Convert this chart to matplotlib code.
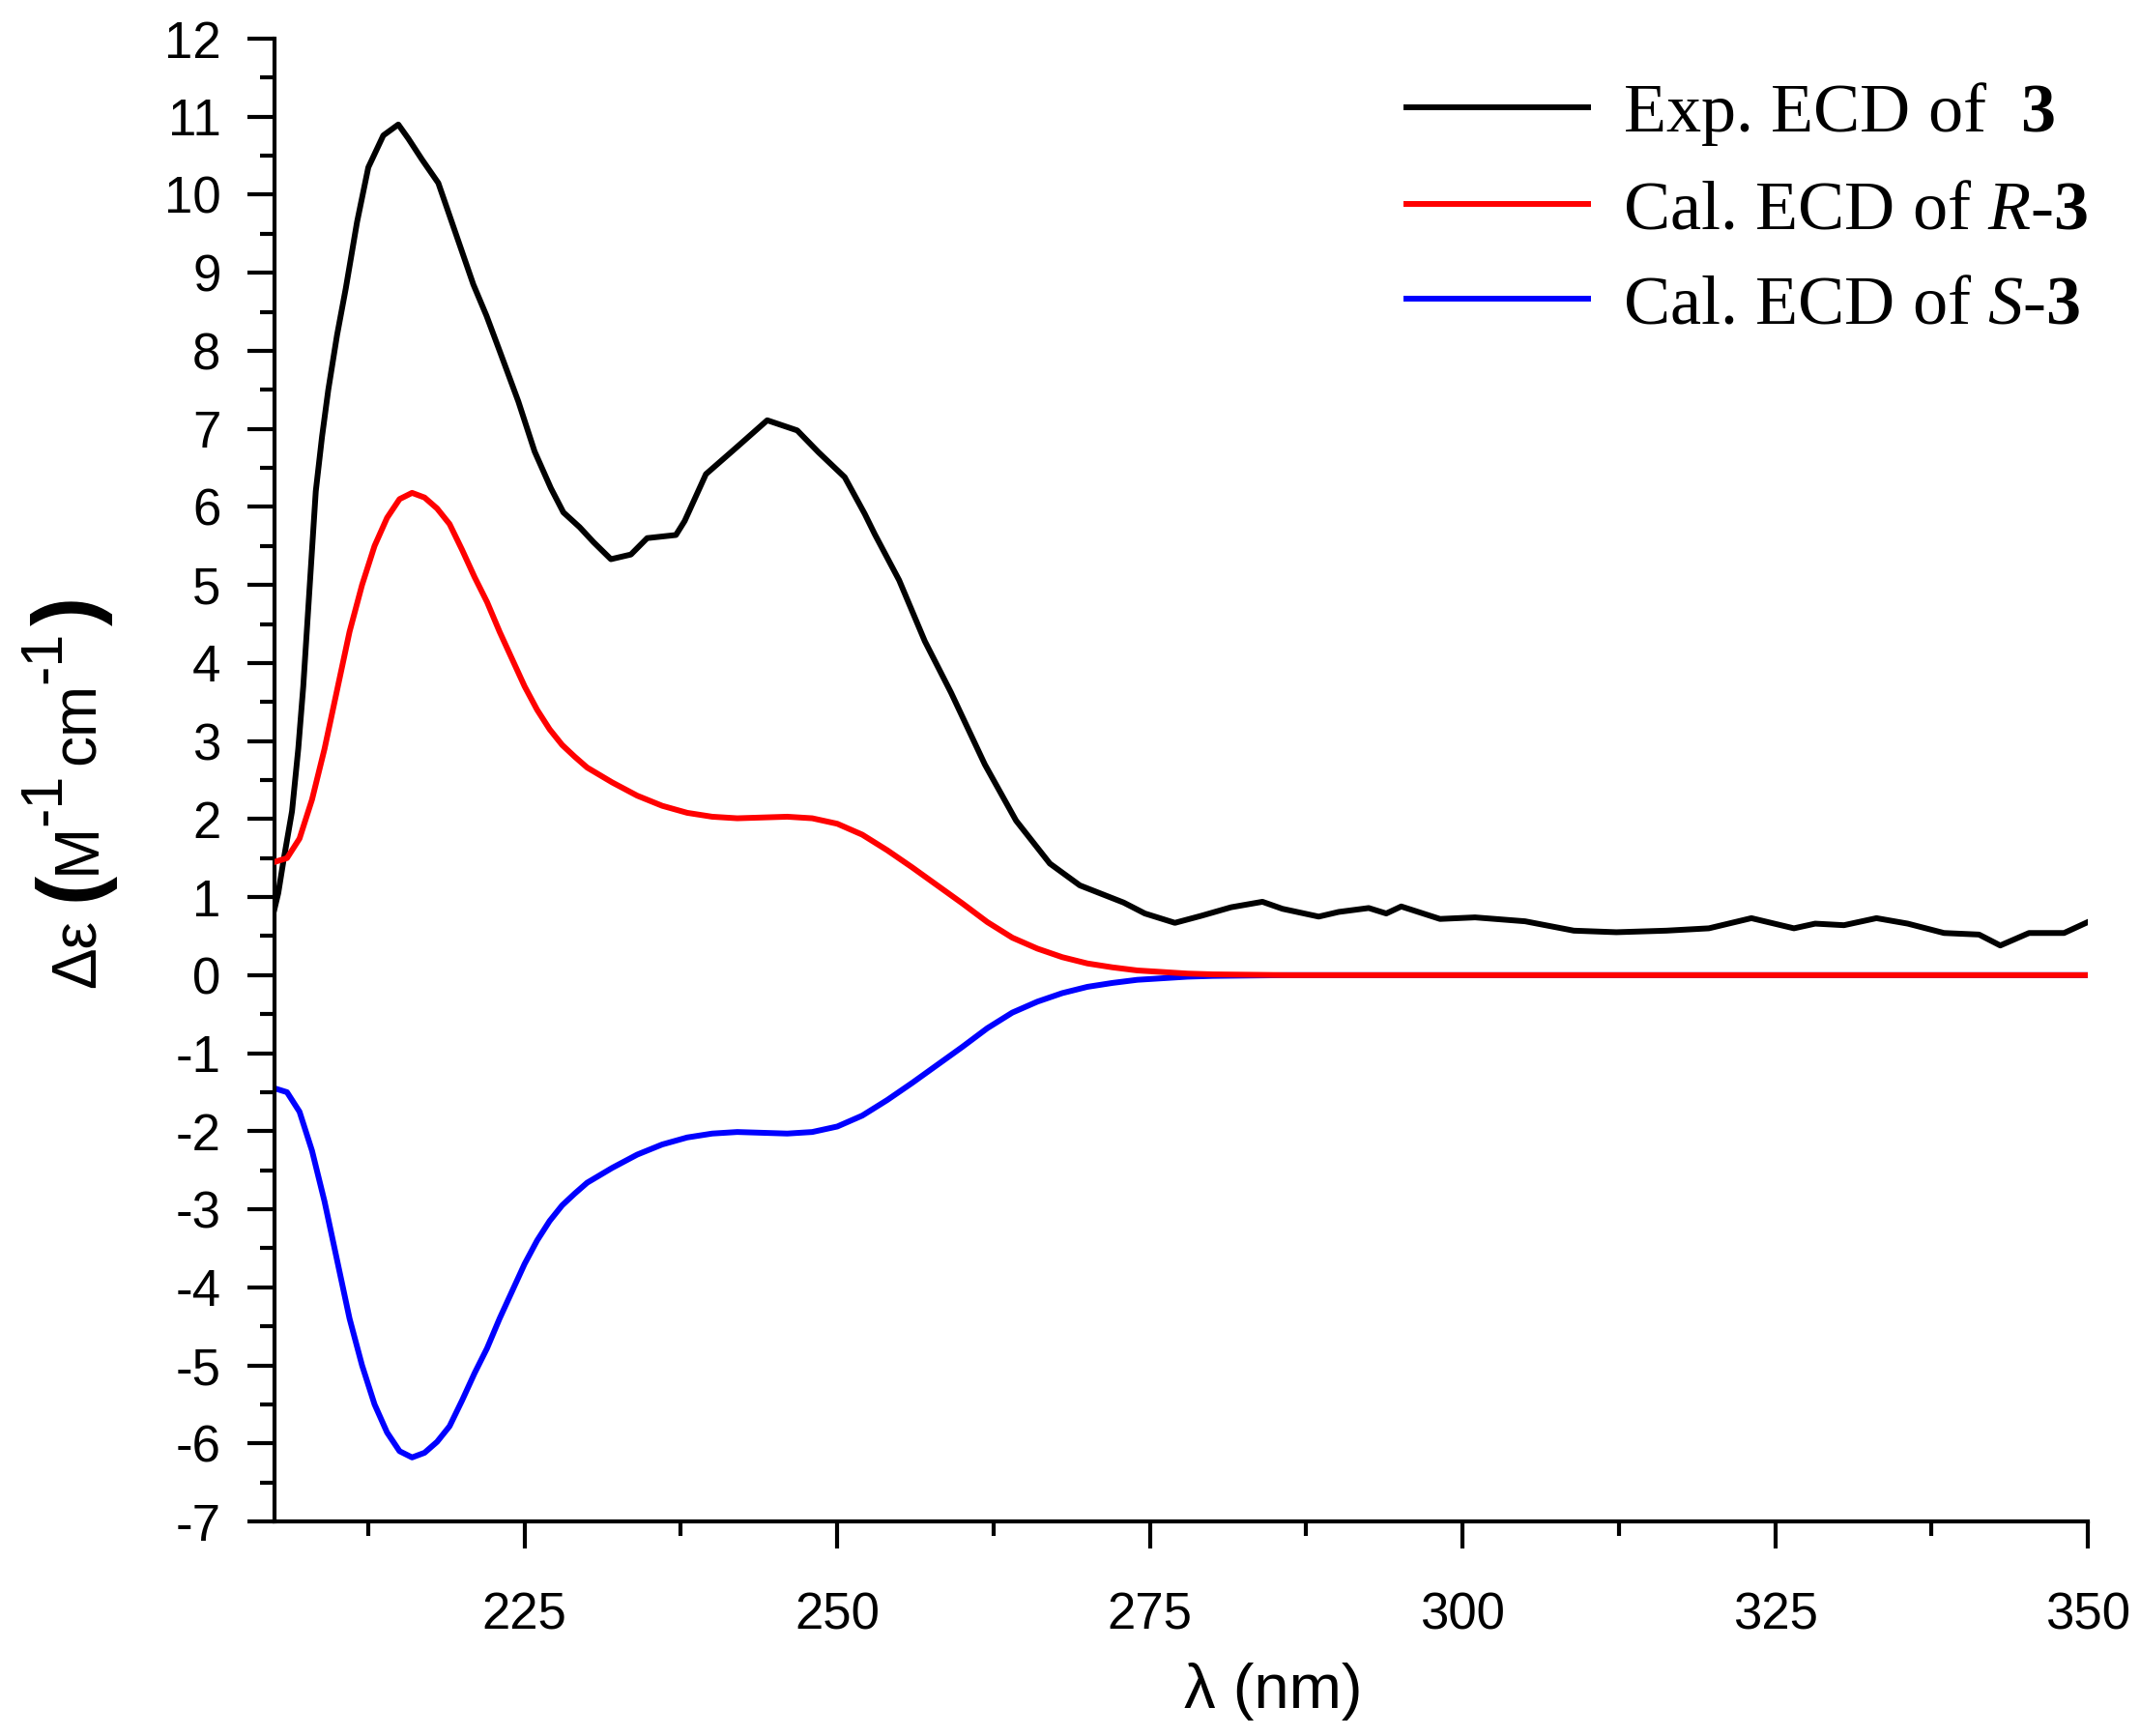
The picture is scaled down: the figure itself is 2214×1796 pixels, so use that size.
from matplotlib import pyplot as plt
from matplotlib.ticker import MultipleLocator

plt.rcParams['mathtext.fontset'] = 'custom'
plt.rcParams['mathtext.rm'] = 'Liberation Serif'
plt.rcParams['mathtext.it'] = 'Liberation Serif:italic'
plt.rcParams['mathtext.bf'] = 'Liberation Serif:bold'
plt.rcParams['font.family'] = ['Liberation Sans', 'DejaVu Sans']
plt.rcParams['axes.unicode_minus'] = False

# experimental ECD of 3
exp_x = [205.0, 205.3, 205.7, 206.4, 206.9, 207.3, 207.7, 208.3, 208.8, 209.3,
         210.0, 210.7, 211.6, 212.5, 213.7, 214.9, 215.7, 216.8, 218.1, 219.5,
         220.9, 221.95, 223.0, 224.5, 225.8, 227.1, 228.1, 229.4, 230.5, 231.9,
         233.5, 234.8, 237.1, 237.8, 239.5, 242.0, 244.4, 246.8, 248.5, 250.6,
         252.2, 253.0, 254.95, 257.0, 259.1, 261.8, 264.3, 267.0, 269.4, 272.9,
         274.6, 277.0, 279.1, 281.5, 284.0, 285.6, 288.5, 290.1, 292.5, 293.9,
         295.1, 298.2, 301.0, 305.0, 308.9, 312.3, 316.3, 319.7, 323.1, 326.5,
         328.2, 330.5, 333.1, 335.6, 338.5, 341.3, 343.0, 345.3, 348.1, 350.0]
exp_y = [0.85, 1.05, 1.45, 2.1, 2.9, 3.7, 4.7, 6.2, 6.9, 7.5,
         8.2, 8.8, 9.65, 10.35, 10.76, 10.9, 10.72, 10.45, 10.15, 9.5,
         8.85, 8.45, 8.0, 7.35, 6.71, 6.24, 5.93, 5.74, 5.55, 5.33,
         5.39, 5.6, 5.64, 5.82, 6.42, 6.77, 7.11, 6.98, 6.7, 6.38,
         5.91, 5.65, 5.06, 4.28, 3.62, 2.7, 1.98, 1.43, 1.15, 0.93,
         0.79, 0.67, 0.76, 0.87, 0.94, 0.85, 0.75, 0.81, 0.86, 0.79,
         0.88, 0.72, 0.74, 0.69, 0.57, 0.55, 0.57, 0.6, 0.73, 0.6,
         0.66, 0.64, 0.73, 0.66, 0.54, 0.52, 0.38, 0.54, 0.54, 0.68]

# calculated ECD, R and S
cal_x = [205, 206, 207, 208, 209, 210, 211, 212, 213, 214,
         215, 216, 217, 218, 219, 220, 221, 222, 223, 224,
         225, 226, 227, 228, 229, 230, 232, 234, 236, 238,
         240, 242, 244, 246, 248, 250, 252, 254, 256, 258,
         260, 262, 264, 266, 268, 270, 272, 274, 276, 278,
         280, 283, 286, 290, 350]
cal_r = [1.45, 1.5, 1.75, 2.25, 2.9, 3.65, 4.4, 5.0, 5.5, 5.86,
         6.1, 6.18, 6.12, 5.98, 5.78, 5.45, 5.1, 4.78, 4.4, 4.05,
         3.7, 3.4, 3.15, 2.95, 2.8, 2.66, 2.47, 2.3, 2.17, 2.08,
         2.03, 2.01, 2.02, 2.03, 2.01, 1.94, 1.8, 1.6, 1.38, 1.15,
         0.92, 0.68, 0.48, 0.34, 0.23, 0.15, 0.1, 0.06, 0.04, 0.02,
         0.01, 0.005, 0.0, 0.0, 0.0]
cal_s = [-1.45, -1.5, -1.75, -2.25, -2.9, -3.65, -4.4, -5.0, -5.5, -5.86,
         -6.1, -6.18, -6.12, -5.98, -5.78, -5.45, -5.1, -4.78, -4.4, -4.05,
         -3.7, -3.4, -3.15, -2.95, -2.8, -2.66, -2.47, -2.3, -2.17, -2.08,
         -2.03, -2.01, -2.02, -2.03, -2.01, -1.94, -1.8, -1.6, -1.38, -1.15,
         -0.92, -0.68, -0.48, -0.34, -0.23, -0.15, -0.1, -0.06, -0.04, -0.02,
         -0.01, -0.005, 0.0, 0.0, 0.0]

labels = [r'Exp. ECD of  $\mathbf{3}$',
          r'Cal. ECD of $\mathit{R}$-$\mathbf{3}$',
          r'Cal. ECD of $\mathit{S}$-$\mathbf{3}$']

W, H = 2214, 1796
fig = plt.figure(figsize=(W / 100, H / 100), dpi=100)
ax = fig.add_axes([284 / W, 1 - 1574 / H, 1876 / W, 1534 / H])

lw = 4.3
ax.plot(exp_x, exp_y, color='black', linewidth=lw, label=labels[0])
ax.plot(cal_x, cal_s, color='#0000ff', linewidth=lw, label=labels[2], zorder=2)
ax.plot(cal_x, cal_r, color='#ff0000', linewidth=lw, label=labels[1], zorder=3)

ax.set_xlim(205, 350)
ax.set_ylim(-7, 12)
ax.xaxis.set_major_locator(MultipleLocator(25))
ax.xaxis.set_minor_locator(MultipleLocator(12.5))
ax.yaxis.set_major_locator(MultipleLocator(1))
ax.yaxis.set_minor_locator(MultipleLocator(0.5))

for side in ['top', 'right']:
    ax.spines[side].set_visible(False)
for side in ['left', 'bottom']:
    ax.spines[side].set_linewidth(3.0)

ax.tick_params(which='major', direction='out', length=20, width=3,
               labelsize=38, color='black')
ax.tick_params(which='minor', direction='out', length=11, width=3)
ax.tick_params(axis='y', which='major', pad=20)
ax.tick_params(axis='x', which='major', pad=32)

ax.set_xlabel('λ (nm)', fontsize=47)
ax.xaxis.set_label_coords(0.551, -0.095)

# y label built from pieces: (text, centre from top px, baseline x px, size, weight)
ylab_parts = [('Δε', 986, 98, 46, 'normal'),
              ('(', 917, 98, 65, 'bold'),
              ('M', 877, 98, 46, 'normal'),
              ('-1', 827, 62, 44, 'normal'),
              ('cm', 748, 98, 46, 'normal'),
              ('-1', 680, 62, 44, 'normal'),
              (')', 632, 98, 65, 'bold')]
for txt, yc, xb, fs, fw in ylab_parts:
    fig.text(xb / W, 1 - yc / H, txt, rotation=90, rotation_mode='anchor',
             ha='center', va='baseline', fontsize=fs, fontweight=fw)

h, l = ax.get_legend_handles_labels()
order = [0, 2, 1]
leg = ax.legend([h[i] for i in order], [l[i] for i in order],
                loc='upper right', bbox_to_anchor=(1.0, 0.972),
                frameon=False, prop={'family': 'Liberation Serif', 'size': 52},
                handlelength=2.6, handletextpad=0.5, labelspacing=0.45,
                borderaxespad=0, borderpad=0)
for line in leg.get_lines():
    line.set_linewidth(lw)

plt.savefig('out.png', dpi=100)
